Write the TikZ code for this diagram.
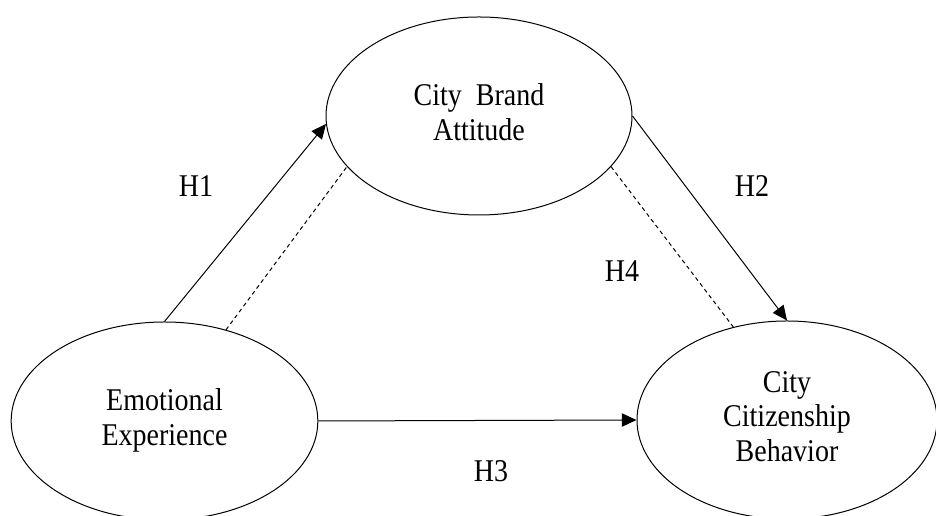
\documentclass[tikz,border=0pt]{standalone}
\usepackage{graphicx}
\usepackage{fontspec}
\setmainfont{Liberation Serif}
\usetikzlibrary{arrows.meta, shapes.geometric, positioning}
\newcommand{\tallbox}[1]{\scalebox{1}[1.13]{\begin{tabular}{@{}c@{}}#1\end{tabular}}}

\begin{document}
\begin{tikzpicture}[
          x=0.75pt, y=0.75pt,
          construct/.style={draw, ellipse, line width=0.75pt, inner sep=0pt,
                      minimum height=148.5pt,
                      font=\fontsize{21}{23}\selectfont},
          hyp/.style={font=\fontsize{21}{23}\selectfont},
          arr/.style={-{Triangle[length=11pt, width=10pt]}, line width=0.75pt},
          med/.style={dash pattern=on 3pt off 2.5pt, line width=0.75pt}
        ]
        \useasboundingbox (0,0) rectangle (936,516);
        \clip (0,0) rectangle (936,516);
        \node[construct, minimum width=229.5pt] (brand) at (479,400) {\tallbox{City\enspace Brand\\Attitude}};
        \node[construct, minimum width=230pt] (emo) at (164.5,95) {\tallbox{Emotional\\Experience}};
        \node[construct, minimum width=225pt] (ccb) at (787,96) {\tallbox{City\\Citizenship\\Behavior}};
        \draw[arr] (emo.north) -- (brand.183);
        \draw[arr] (brand.east) -- (ccb.north);
        \draw[arr] (emo.east) -- (ccb.west);
        \draw[med] (emo.56.5) -- (brand.201.8);
        \draw[med] (brand.339) -- (ccb.120.4);
        \node[hyp] (h1) at (196,326) {\tallbox{H1}};
        \node[hyp] (h2) at (752,326) {\tallbox{H2}};
        \node[hyp] (h3) at (491,41) {\tallbox{H3}};
        \node[hyp] (h4) at (622,241) {\tallbox{H4}};
      \end{tikzpicture}
\end{document}
